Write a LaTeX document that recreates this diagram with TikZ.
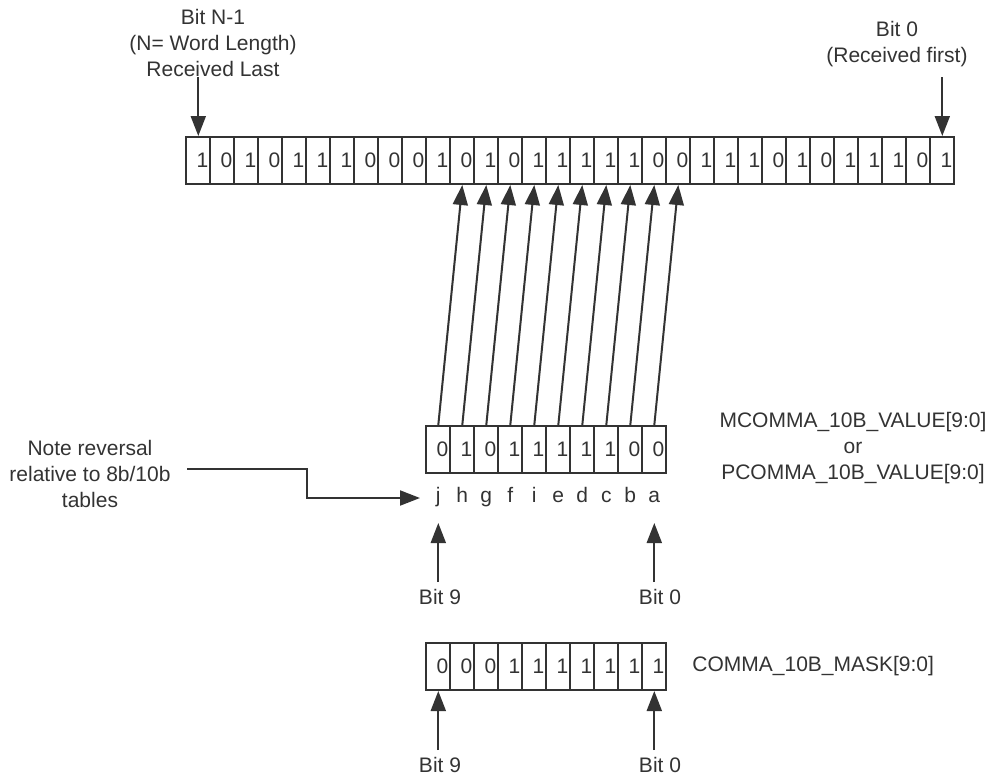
\documentclass[tikz,border=0pt]{standalone}
\usepackage{fontspec}
\setmainfont{Liberation Sans}
\usetikzlibrary{arrows.meta}
\definecolor{ink}{HTML}{333333}
\tikzset{
  cell/.style={draw=ink, line width=1pt, minimum height=23.5pt, text width=10pt,
    inner xsep=1pt, inner ysep=0pt, align=right, text=ink},
  arr/.style={draw=ink, line width=1pt, -{Triangle[length=10pt,width=7.5pt]}},
  txt/.style={text=ink, align=center},
}
\begin{document}
\begin{tikzpicture}[x=0.5pt, y=-0.5pt, font=\fontsize{10.5}{13}\selectfont]
  \useasboundingbox (0,0) rectangle (997,777);
  % received word, bit N-1 on the left
  \foreach \b [count=\i from 0] in {1,0,1,0,1,1,1,0,0,0,1,0,1,0,1,1,1,1,1,0,0,1,1,1,0,1,0,1,1,1,0,1}
    \node[cell] (t\i) at (198.3+24*\i,160.5) {\b};
  % comma value and mask
  \foreach \b [count=\i from 0] in {0,1,0,1,1,1,1,1,0,0}
    \node[cell] (m\i) at (438.3+24*\i,449.5) {\b};
  \foreach \b [count=\i from 0] in {0,0,0,1,1,1,1,1,1,1}
    \node[cell] (k\i) at (438.3+24*\i,666.5) {\b};
  \foreach \c [count=\i from 0] in {j,h,g,f,i,e,d,c,b,a}
    \node[txt, anchor=base] (l\i) at (438.3+24*\i,502) {\c};
  % matching arrows
  \foreach \i [evaluate=\i as \j using int(\i+11)] in {0,...,9}
    \draw[arr] (m\i.north) -- (t\j.south);
  % labels on top
  \node[txt, inner sep=0pt] (lastlbl) at (213,43) {Bit N-1\\(N= Word Length)\\Received Last};
  \node[txt, inner sep=0pt] (firstlbl) at (897,44) {Bit 0\\(Received first)};
  \coordinate (lastsrc) at (198.3,77);
  \coordinate (firstsrc) at (942.3,77);
  \draw[arr] (lastsrc) -- (t0.north);
  \draw[arr] (firstsrc) -- (t31.north);
  % note
  \node[txt] (note) at (90,474) {Note reversal\\relative to 8b/10b\\tables};
  \coordinate (noteout) at (187,469);
  \coordinate (notein) at (420,498);
  \draw[arr] (noteout) -- ++(120,0) |- (notein);
  \node[txt] (vallbl) at (853,448) {MCOMMA\_10B\_VALUE[9:0]\\or\\PCOMMA\_10B\_VALUE[9:0]};
  \node[txt, anchor=west, inner sep=0pt] (masklbl) at (692,666) {COMMA\_10B\_MASK[9:0]};
  % bit 9 / bit 0
  \node[txt] (b9a) at (440,597) {Bit 9};
  \node[txt] (b0a) at (660,597) {Bit 0};
  \node[txt] (b9b) at (440,765) {Bit 9};
  \node[txt] (b0b) at (660,765) {Bit 0};
  \draw[arr] (m0.south |- b9a.north) -- ([yshift=-24.5pt]m0.south);
  \draw[arr] (m9.south |- b0a.north) -- ([yshift=-24.5pt]m9.south);
  \draw[arr] (k0.south |- b9b.north) -- (k0.south);
  \draw[arr] (k9.south |- b0b.north) -- (k9.south);
\end{tikzpicture}
\end{document}
